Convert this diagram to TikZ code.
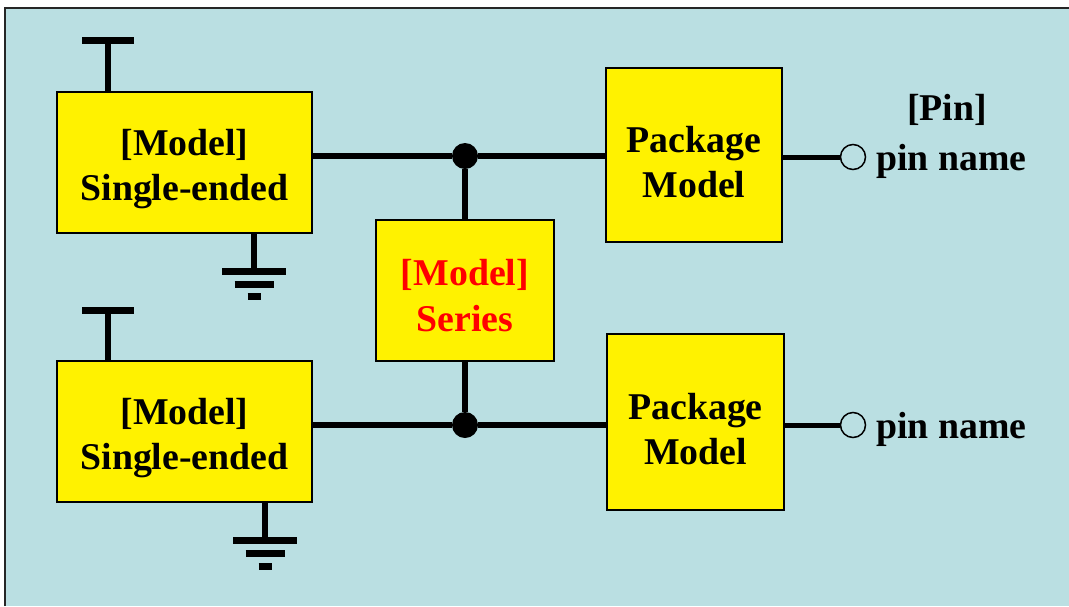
\documentclass[tikz,border=0pt]{standalone}
\usepackage{fontspec}
\setmainfont{Liberation Serif}
\definecolor{bgblue}{RGB}{186,223,226}
\begin{document}
\begin{tikzpicture}[x=1pt,y=-1pt,
  box/.style={draw=black, line width=1.5pt, fill=yellow, inner sep=0pt},
  boxtext/.style={inner sep=0pt, align=center, font=\bfseries\fontsize{37.8}{45.5}\selectfont},
  wire/.style={line width=6pt},
  pwire/.style={line width=5pt},
  bar/.style={line width=7pt},
  jdot/.style={circle, fill=black, inner sep=0pt, minimum size=26pt},
  pinc/.style={circle, draw=black, line width=1.5pt, fill=bgblue, inner sep=0pt, minimum size=25pt},
  lbl/.style={inner sep=0pt, font=\bfseries\fontsize{37.8}{45}\selectfont}]
\useasboundingbox (0,0) rectangle (1069,606);
\fill[bgblue] (5,8) rectangle (1069,606);
\draw[line width=2.5pt, black!85] (5,606) -- (5,8) -- (1069,8);

% boxes
\node[box, minimum width=255pt, minimum height=141pt] (se1) at (184.5,162.5) {};
\node[box, minimum width=255pt, minimum height=141pt] (se2) at (184.5,431.5) {};
\node[box, minimum width=178pt, minimum height=141pt] (ser) at (465,290.5) {};
\node[box, minimum width=176pt, minimum height=174pt] (pk1) at (694,155) {};
\node[box, minimum width=177pt, minimum height=176pt] (pk2) at (695.5,422) {};
\node[boxtext] (se1t) at ([yshift=-6.5pt]se1.center) {[Model]\\Single-ended};
\node[boxtext] (se2t) at ([yshift=-6.5pt]se2.center) {[Model]\\Single-ended};
\node[boxtext, text=red] (sert) at ([yshift=-5pt]ser.center) {[Model]\\Series};
\node[boxtext] (pk1t) at ([yshift=-7pt]pk1.center) {Package\\Model};
\node[boxtext] (pk2t) at ([yshift=-7pt]pk2.center) {Package\\Model};

% junctions and wires
\node[jdot] (j1) at (465,156) {};
\node[jdot] (j2) at (465,425) {};
\draw[wire] (se1.east |- j1) -- (j1) -- (pk1.west |- j1);
\draw[wire] (se2.east |- j2) -- (j2) -- (pk2.west |- j2);
\draw[wire] (j1) -- (ser.north);
\draw[wire] (ser.south) -- (j2);

% pins
\node[pinc] (p1) at (853,157) {};
\node[pinc] (p2) at (853,425) {};
\draw[pwire] (pk1.east |- p1) -- (p1.west);
\draw[pwire] (pk2.east |- p2) -- (p2.west);
\node[lbl, anchor=base west] (n1) at (876,170) {pin name};
\node[lbl, anchor=base west] (n2) at (876,438) {pin name};
\node[lbl, anchor=base] (pinhdr) at (947,120) {[Pin]};

% power symbols
\coordinate (v1) at (108,40);
\coordinate (v2) at (108,310);
\draw[wire] (v1) -- (v1 |- se1.north);
\draw[bar] ([xshift=-26pt]v1) -- ([xshift=26pt]v1);
\draw[wire] (v2) -- (v2 |- se2.north);
\draw[bar] ([xshift=-26pt]v2) -- ([xshift=26pt]v2);

% ground symbols
\coordinate (g1) at (254,271);
\coordinate (g2) at (265,540);
\draw[wire] (g1 |- se1.south) -- (g1);
\draw[bar] ([xshift=-32pt]g1) -- ([xshift=32pt]g1);
\draw[bar] ([xshift=-19.5pt,yshift=-13pt]g1) -- ([xshift=19.5pt,yshift=-13pt]g1);
\draw[bar] ([xshift=-6.5pt,yshift=-25pt]g1) -- ([xshift=6.5pt,yshift=-25pt]g1);
\draw[wire] (g2 |- se2.south) -- (g2);
\draw[bar] ([xshift=-32pt]g2) -- ([xshift=32pt]g2);
\draw[bar] ([xshift=-19.5pt,yshift=-13pt]g2) -- ([xshift=19.5pt,yshift=-13pt]g2);
\draw[bar] ([xshift=-6.5pt,yshift=-26pt]g2) -- ([xshift=6.5pt,yshift=-26pt]g2);
\end{tikzpicture}
\end{document}
